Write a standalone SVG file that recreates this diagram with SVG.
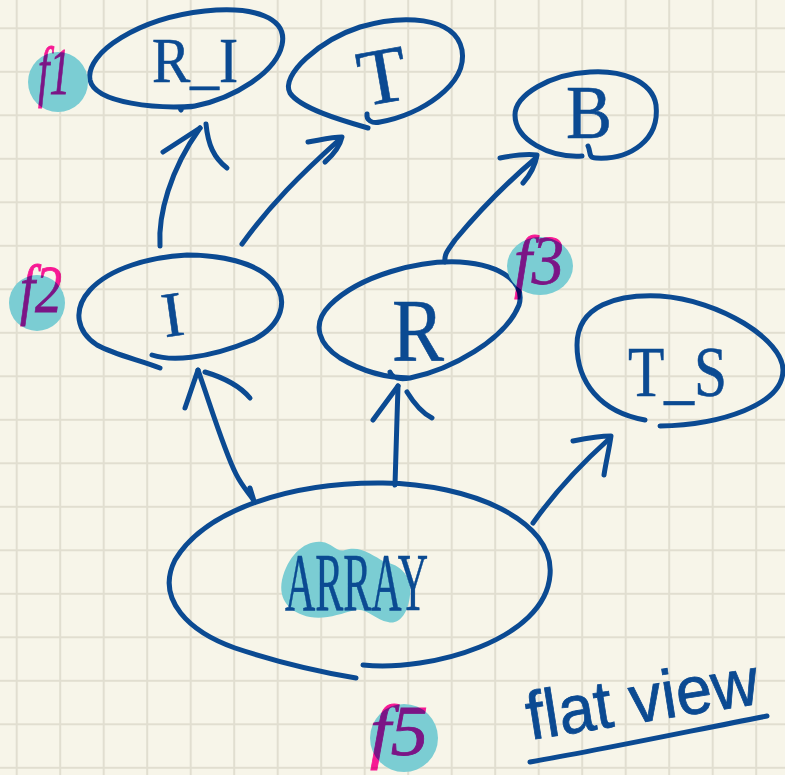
<svg xmlns="http://www.w3.org/2000/svg" width="785" height="775" viewBox="0 0 785 775">
  <defs>
    <pattern id="grid" patternUnits="userSpaceOnUse" x="15.7" y="27.3" width="43.5" height="43.5">
      <rect width="43.5" height="43.5" fill="#f7f5e9"/>
      <path d="M1 0 V43.5 M0 1 H43.5" stroke="#e1ded0" stroke-width="2" fill="none"/>
    </pattern>
  </defs>
  <style>
    .ink { fill: none; stroke: #0b4a92; stroke-width: 5; stroke-linecap: round; stroke-linejoin: round; }
    .lbl { fill: #0b4a92; stroke: #0b4a92; stroke-width: 0.6; font-family: "Liberation Serif", "DejaVu Serif", serif; }
    .hand { fill: #0b4a92; stroke: #0b4a92; stroke-width: 0.8; font-family: "Liberation Sans", "DejaVu Sans", sans-serif; }
    .hl { fill: #7bcdd3; }
    .fn { fill: #ff1aa2; font-family: "Liberation Serif", serif; font-style: italic; mix-blend-mode: multiply; stroke: #ff1aa2; stroke-width: 0.8; }
  </style>

  <!-- squared paper -->
  <rect width="785" height="775" fill="url(#grid)"/>

  <!-- nodes -->
  <g id="node-ri">
    <path class="ink" d="M 195 106 C 160 109, 95 104, 90 80 C 85 52, 140 18, 205 11 C 255 6, 288 18, 282 45 C 276 72, 235 98, 195 106 C 186 108, 178 106, 181 110"/>
    <text class="lbl" x="152" y="82" font-size="64" textLength="86" lengthAdjust="spacingAndGlyphs">R_I</text>
  </g>
  <g id="tag-f1">
    <circle class="hl" cx="58" cy="82" r="30"/>
    <text class="fn" x="38" y="94" font-size="68" textLength="32" lengthAdjust="spacingAndGlyphs">f1</text>
  </g>

  <g id="node-t">
    <path class="ink" d="M 368 128 C 340 120, 300 108, 290 93 C 280 75, 320 40, 360 27 C 400 15, 455 15, 462 50 C 468 85, 420 115, 380 122 C 372 124, 366 120, 367 114"/>
    <text class="lbl" x="357" y="102" font-size="80" transform="rotate(-10 385 70)">T</text>
  </g>

  <g id="node-b">
    <path class="ink" d="M 588 146 C 591 152, 588 158, 596 158 C 630 160, 660 140, 656 105 C 652 80, 620 70, 590 72 C 550 74, 515 95, 515 115 C 515 140, 550 158, 582 156"/>
    <text class="lbl" x="566" y="138" font-size="76" textLength="46" lengthAdjust="spacingAndGlyphs">B</text>
  </g>

  <g id="node-i">
    <path class="ink" d="M 152 355 C 170 361, 205 360, 253 340 C 282 325, 290 300, 272 280 C 255 262, 220 255, 187 255 C 150 257, 110 268, 90 290 C 72 310, 77 332, 97 345 C 115 355, 140 360, 160 368"/>
    <text class="lbl" x="162" y="336" font-size="64" transform="rotate(-8 173 315)">I</text>
  </g>
  <g id="tag-f2">
    <circle class="hl" cx="37" cy="303" r="28"/>
    <text class="fn" x="20" y="312" font-size="68" textLength="42" lengthAdjust="spacingAndGlyphs">f2</text>
  </g>

  <g id="node-r">
    <path class="ink" d="M 390 372 C 392 378, 398 380, 410 378 C 450 370, 505 340, 519 305 C 525 285, 505 265, 460 262 C 420 260, 360 275, 330 305 C 310 325, 320 345, 340 358 C 360 370, 385 378, 410 378"/>
    <text class="lbl" x="392" y="360" font-size="88" textLength="52" lengthAdjust="spacingAndGlyphs">R</text>
  </g>
  <g id="tag-f3">
    <ellipse class="hl" cx="540" cy="266" rx="33" ry="29"/>
    <text class="fn" x="514" y="284" font-size="70" textLength="50" lengthAdjust="spacingAndGlyphs">f3</text>
  </g>

  <g id="node-ts">
    <path class="ink" d="M 645 420 C 600 412, 577 382, 577 345 C 577 305, 618 294, 660 296 C 720 300, 783 340, 783 370 C 783 405, 720 425, 660 426"/>
    <text class="lbl" x="628" y="396" font-size="72" textLength="99" lengthAdjust="spacingAndGlyphs">T_S</text>
  </g>

  <g id="node-array">
    <path class="hl" d="M 282 580 C 288 555, 305 540, 322 542 C 332 543, 337 553, 345 550 C 360 545, 372 555, 385 562 C 400 565, 412 575, 410 595 C 408 615, 398 625, 388 622 C 375 620, 368 608, 355 610 C 340 614, 325 620, 310 617 C 290 613, 278 600, 282 580 Z"/>
    <path class="ink" d="M 363 665 C 430 672, 545 640, 550 575 C 555 520, 470 484, 383 483 C 290 482, 205 510, 175 560 C 155 600, 190 632, 235 648 C 280 663, 320 672, 356 678"/>
    <text class="lbl" x="285" y="610" font-size="82" textLength="143" lengthAdjust="spacingAndGlyphs">ARRAY</text>
  </g>
  <g id="tag-f5">
    <circle class="hl" cx="404" cy="738" r="34"/>
    <text class="fn" x="370" y="755" font-size="72" textLength="58" lengthAdjust="spacingAndGlyphs">f5</text>
  </g>

  <!-- connectors -->
  <g id="connectors">
    <!-- I to R_I -->
    <path class="ink" d="M 160 246 C 158 215, 170 170, 200 128"/>
    <path class="ink" d="M 163 152 L 200 128 M 206 124 C 208 145, 214 158, 227 168"/>
    <!-- I to T -->
    <path class="ink" d="M 242 244 C 270 205, 300 175, 340 139"/>
    <path class="ink" d="M 308 142 C 320 140, 332 137, 342 137 C 340 146, 333 155, 325 162"/>
    <!-- R to B -->
    <path class="ink" d="M 445 262 C 444 254, 448 250, 455 240 C 480 210, 510 180, 536 158"/>
    <path class="ink" d="M 500 158 C 515 155, 528 154, 537 155 C 535 167, 530 175, 523 183"/>
    <!-- ARRAY to I -->
    <path class="ink" d="M 198 370 C 212 410, 224 450, 236 474 C 243 488, 250 494, 254 501 M 250 488 L 254 501"/>
    <path class="ink" d="M 185 408 L 198 370 M 205 372 C 225 378, 240 386, 250 398"/>
    <!-- ARRAY to R -->
    <path class="ink" d="M 395 485 C 396 450, 397 420, 398 386"/>
    <path class="ink" d="M 373 420 L 398 386 M 407 392 C 415 405, 422 413, 432 418"/>
    <!-- ARRAY to T_S -->
    <path class="ink" d="M 533 523 C 555 492, 580 465, 609 439"/>
    <path class="ink" d="M 573 441 C 588 438, 600 436, 611 436 C 609 450, 606 462, 604 475"/>
  </g>

  <!-- caption -->
  <g id="caption">
    <text class="hand" x="530" y="740" font-size="68" textLength="234" lengthAdjust="spacingAndGlyphs" transform="rotate(-9 530 740)">flat view</text>
    <path class="ink" d="M 530 762 C 600 750, 690 731, 767 716"/>
  </g>
</svg>
